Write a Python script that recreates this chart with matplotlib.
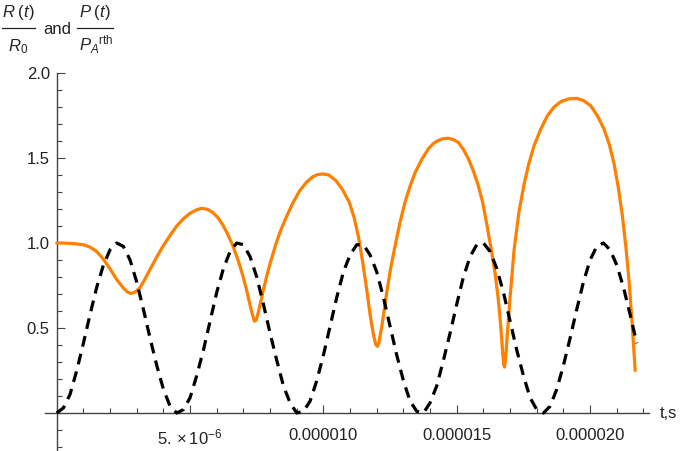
import numpy as np
import matplotlib.pyplot as plt
from matplotlib.lines import Line2D
from matplotlib.ticker import FixedLocator, MultipleLocator

plt.rcParams['font.family'] = ['Liberation Sans', 'DejaVu Sans']
plt.rcParams['mathtext.fontset'] = 'custom'
plt.rcParams['mathtext.rm'] = 'Liberation Sans'
plt.rcParams['mathtext.it'] = 'Liberation Sans:italic'
plt.rcParams['mathtext.bf'] = 'Liberation Sans:bold'

# P(t)/P_A^rth, every 0.25 microseconds
p_time_us = [0.00, 0.25, 0.50, 0.75, 1.00, 1.25, 1.50, 1.75, 2.00, 2.25,
             2.50, 2.75, 3.00, 3.25, 3.50, 3.75, 4.00, 4.25, 4.50, 4.75,
             5.00, 5.25, 5.50, 5.75, 6.00, 6.25, 6.50, 6.75, 7.00, 7.25,
             7.50, 7.75, 8.00, 8.25, 8.50, 8.75, 9.00, 9.25, 9.50, 9.75,
             10.00, 10.25, 10.50, 10.75, 11.00, 11.25, 11.50, 11.75, 12.00, 12.25,
             12.50, 12.75, 13.00, 13.25, 13.50, 13.75, 14.00, 14.25, 14.50, 14.75,
             15.00, 15.25, 15.50, 15.75, 16.00, 16.25, 16.50, 16.75, 17.00, 17.25,
             17.50, 17.75, 18.00, 18.25, 18.50, 18.75, 19.00, 19.25, 19.50, 19.75,
             20.00, 20.25, 20.50, 20.75, 21.00, 21.25, 21.50, 21.75]
p_ratio = [0.00, 0.03, 0.11, 0.25, 0.41, 0.58, 0.74, 0.87, 0.96, 1.00,
           0.98, 0.90, 0.77, 0.61, 0.44, 0.28, 0.14, 0.04, 0.00, 0.02,
           0.09, 0.22, 0.37, 0.54, 0.71, 0.85, 0.95, 1.00, 0.99, 0.92,
           0.80, 0.64, 0.47, 0.31, 0.16, 0.06, 0.00, 0.01, 0.07, 0.19,
           0.34, 0.51, 0.68, 0.83, 0.93, 0.99, 0.99, 0.93, 0.83, 0.68,
           0.51, 0.34, 0.19, 0.07, 0.01, 0.00, 0.06, 0.16, 0.31, 0.47,
           0.64, 0.80, 0.92, 0.99, 1.00, 0.95, 0.85, 0.71, 0.54, 0.37,
           0.22, 0.09, 0.02, 0.00, 0.04, 0.14, 0.28, 0.44, 0.61, 0.77,
           0.90, 0.98, 1.00, 0.96, 0.87, 0.74, 0.58, 0.41]

# R(t)/R0
r_time_us = [0.0, 0.25, 0.5, 0.75, 1.0, 1.25, 1.5, 1.75, 2.0, 2.25,
             2.5, 2.65, 2.79, 2.95, 3.125, 3.3, 3.5, 3.75, 4.0, 4.25,
             4.5, 4.75, 5.0, 5.25, 5.44, 5.65, 5.85, 6.05, 6.22, 6.4,
             6.6, 6.8, 6.97, 7.1, 7.22, 7.32, 7.41, 7.47, 7.54, 7.65,
             7.75, 7.85, 8.0, 8.22, 8.4, 8.6, 8.85, 9.1, 9.35, 9.6,
             9.8, 10.0, 10.2, 10.47, 10.7, 10.97, 11.15, 11.31, 11.47, 11.62,
             11.75, 11.87, 11.96, 12.02, 12.08, 12.19, 12.37, 12.52, 12.69, 12.87,
             13.06, 13.25, 13.44, 13.7, 13.94, 14.12, 14.31, 14.5, 14.69, 14.88,
             15.06, 15.25, 15.44, 15.62, 15.81, 15.97, 16.12, 16.28, 16.44, 16.55,
             16.64, 16.71, 16.76, 16.79, 16.83, 16.9, 17.0, 17.15, 17.33, 17.53,
             17.7, 17.9, 18.15, 18.4, 18.65, 18.9, 19.2, 19.5, 19.75, 20.02,
             20.27, 20.52, 20.72, 20.9, 21.06, 21.21, 21.34, 21.46, 21.58, 21.69]
r_ratio = [1.000, 1.000, 0.998, 0.995, 0.990, 0.976, 0.950, 0.905, 0.848, 0.785,
           0.735, 0.712, 0.703, 0.712, 0.738, 0.785, 0.845, 0.918, 0.985, 1.045,
           1.100, 1.143, 1.175, 1.196, 1.204, 1.198, 1.180, 1.148, 1.108, 1.055,
           0.985, 0.900, 0.812, 0.735, 0.655, 0.590, 0.540, 0.545, 0.580, 0.655,
           0.725, 0.790, 0.880, 0.995, 1.075, 1.150, 1.235, 1.305, 1.355, 1.390,
           1.403, 1.406, 1.400, 1.367, 1.318, 1.240, 1.150, 1.040, 0.890, 0.730,
           0.580, 0.465, 0.405, 0.392, 0.412, 0.510, 0.705, 0.850, 0.985, 1.120,
           1.240, 1.335, 1.415, 1.495, 1.555, 1.585, 1.604, 1.614, 1.616, 1.608,
           1.592, 1.550, 1.494, 1.425, 1.337, 1.240, 1.115, 0.975, 0.820, 0.680,
           0.530, 0.380, 0.285, 0.270, 0.320, 0.470, 0.680, 0.960, 1.180, 1.350,
           1.465, 1.573, 1.670, 1.749, 1.800, 1.831, 1.848, 1.851, 1.838, 1.808,
           1.750, 1.671, 1.580, 1.465, 1.325, 1.160, 0.980, 0.780, 0.520, 0.250]

x_major = [5e-6, 10e-6, 15e-6, 20e-6]
x_labels = [r'$5.\times10^{-6}$', '0.000010', '0.000015', '0.000020']
y_major = [0.5, 1.0, 1.5, 2.0]
y_labels = ['0.5', '1.0', '1.5', '2.0']

p_t = np.array(p_time_us) * 1e-6
r_t = np.array(r_time_us) * 1e-6

W, H = 685, 451
fig = plt.figure(figsize=(W / 100, H / 100), dpi=100)
ax = fig.add_axes([0.0653, 0.0013, 0.8818, 0.8368])

ax.plot(r_t, r_ratio, color='#FF7F00', lw=2.3, solid_capstyle='round',
        solid_joinstyle='round', zorder=3)
ax.plot(p_t, p_ratio, color='black', lw=2.3, dashes=(3.4, 2.3), zorder=4)

ax.set_xlim(-0.45e-6, 22.2e-6)
ax.set_ylim(-0.22, 2.0)

# axes through the origin, Mathematica style
for side in ['top', 'right']:
    ax.spines[side].set_visible(False)
ax.spines['left'].set_position(('data', 0))
ax.spines['bottom'].set_position(('data', 0))
for side in ['left', 'bottom']:
    ax.spines[side].set_color('#444444')
    ax.spines[side].set_linewidth(1.0)

ax.xaxis.set_major_locator(FixedLocator(x_major))
ax.xaxis.set_minor_locator(MultipleLocator(1e-6))
ax.set_xticklabels(x_labels)
ax.yaxis.set_major_locator(FixedLocator(y_major))
ax.yaxis.set_minor_locator(MultipleLocator(0.1))
ax.set_yticklabels(y_labels)

ax.tick_params(which='both', direction='in', color='#444444', width=0.8,
               labelsize=12, labelcolor='#222222')
ax.tick_params(which='major', length=6)
ax.tick_params(which='minor', length=3.5)
ax.tick_params(axis='x', which='major', pad=10.5)
ax.tick_params(axis='y', which='major', pad=5)

ax.annotate('t,s', xy=(1, 0), xycoords=('axes fraction', 'data'),
            xytext=(8, 0), textcoords='offset points', va='center', ha='left',
            fontsize=12, color='#222222')


# y axis title built as two stacked fractions, positions in pixels from top-left
def px(x, y):
    return x / W, 1 - y / H


tc = '#222222'
fig.text(*px(18.5, 17), r'$R\;(t)$', ha='center', va='baseline', fontsize=12, color=tc)
fig.text(*px(18.5, 51), r'$R_0$', ha='center', va='baseline', fontsize=12, color=tc)
fig.text(*px(57.5, 34), 'and', ha='center', va='baseline', fontsize=12, color=tc)
fig.text(*px(95, 17), r'$P\;(t)$', ha='center', va='baseline', fontsize=12, color=tc)
fig.text(*px(96, 51), r'${P_A}^{\mathrm{rth}}$', ha='center', va='baseline', fontsize=12, color=tc)
for x0, x1 in [(2, 35), (77, 113)]:
    fig.add_artist(Line2D([x0 / W, x1 / W], [1 - 28 / H, 1 - 28 / H],
                          transform=fig.transFigure, color=tc, lw=0.9))

fig.savefig('out.png', dpi=100)
